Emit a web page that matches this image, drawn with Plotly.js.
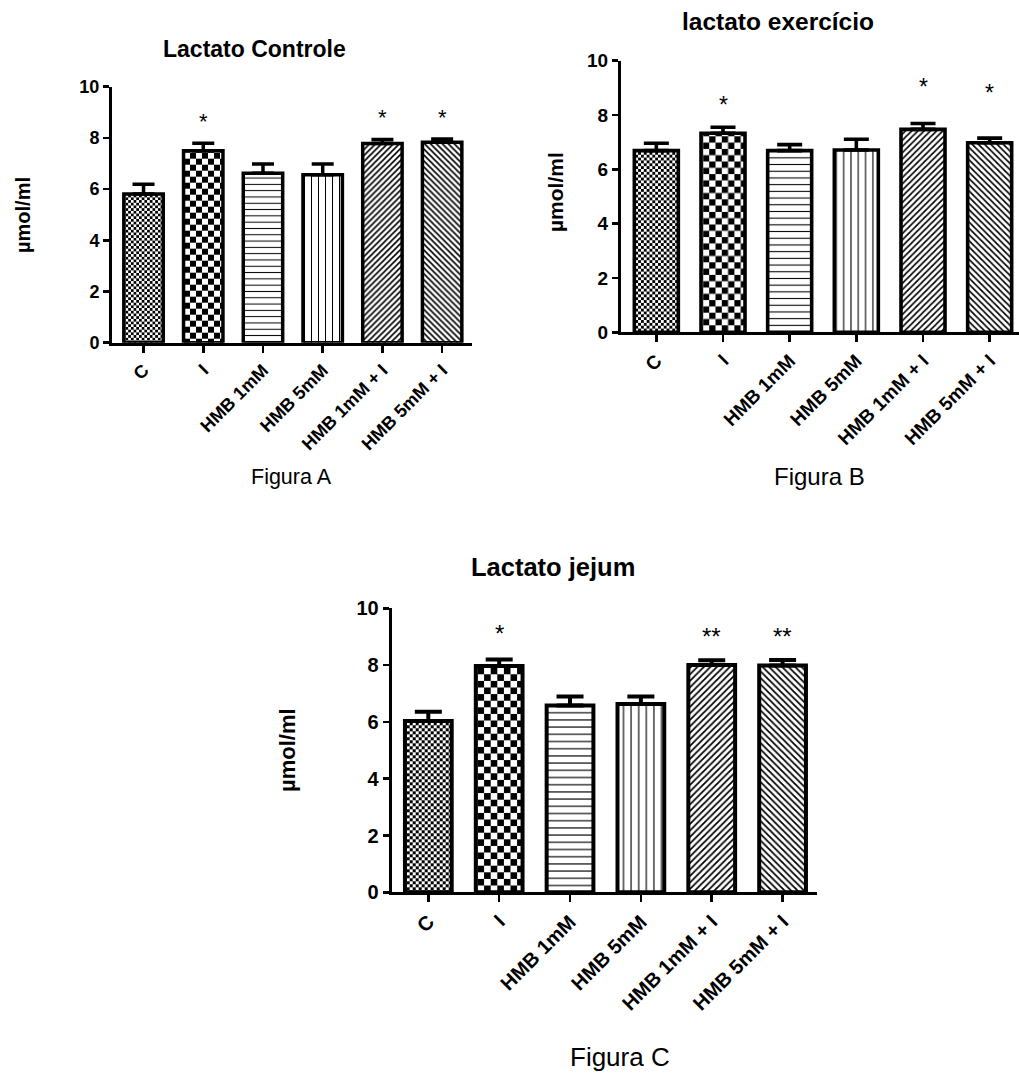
<!DOCTYPE html>
<html>
<head>
<meta charset="utf-8">
<script src="https://cdn.plot.ly/plotly-3.0.1.min.js"></script>
<style>html,body{margin:0;padding:0;background:#fff;}#gd{width:1019px;height:1075px;}</style>
</head>
<body>
<div id="gd"></div>
<script>
// ---------- data ----------
const categories = ['C', 'I', 'HMB 1mM', 'HMB 5mM', 'HMB 1mM + I', 'HMB 5mM + I'];

const valuesA = [5.81, 7.50, 6.62, 6.56, 7.78, 7.83];
const errorsA = [0.38, 0.29, 0.36, 0.42, 0.16, 0.13];
const starsA = ['', '*', '', '', '*', '*'];
const starPosA = [null, 8.83, null, null, 9.0, 9.0];

const valuesB = [6.69, 7.33, 6.69, 6.71, 7.47, 6.98];
const errorsB = [0.27, 0.22, 0.22, 0.40, 0.22, 0.17];
const starsB = ['', '*', '', '', '*', '*'];
const starPosB = [null, 8.58, null, null, 9.22, 9.02];

const valuesC = [6.03, 7.97, 6.58, 6.63, 8.00, 7.99];
const errorsC = [0.33, 0.23, 0.31, 0.26, 0.17, 0.19];
const starsC = ['', '*', '', '', '**', '**'];
const starPosC = [null, 9.3, null, null, 9.21, 9.21];

const yTicks = [0, 2, 4, 6, 8, 10];
const titleA = 'Lactato Controle';
const titleB = 'lactato exercício';
const titleC = 'Lactato jejum';
const yTitle = 'µmol/ml';
const captionA = 'Figura A';
const captionB = 'Figura B';
const captionC = 'Figura C';

// ---------- layout helpers ----------
const W = 1019, H = 1075;
const FONT = 'Liberation Sans, Arial, Helvetica, sans-serif';
const px = x => x / W;
const py = y => 1 - y / H;

const panels = [
  {vals: valuesA, errs: errorsA, stars: starsA, starPos: starPosA, xa: 'x', ya: 'y',
   xdom: [px(112), px(472)], ydom: [py(342.7), py(86.7)], xr: [-0.528, 5.5],
   lw: 3.5, cap: 11, tick: 18, xtick: 18, star: 22,
   pat: {h: 6.3, v: 7, d: 4.2}, chk: [2.7, 6]},
  {vals: valuesB, errs: errorsB, stars: starsB, starPos: starPosB, xa: 'x2', ya: 'y2',
   xdom: [px(621), 1], ydom: [py(332.3), py(60.7)], xr: [-0.53, 5.44],
   lw: 3.6, cap: 12.5, tick: 19, xtick: 19, star: 23,
   pat: {h: 6.7, v: 7.3, d: 4.4}, chk: [2.85, 6.3]},
  {vals: valuesC, errs: errorsC, stars: starsC, starPos: starPosC, xa: 'x3', ya: 'y3',
   xdom: [px(391.7), px(817.3)], ydom: [py(892.3), py(608.3)], xr: [-0.517, 5.49],
   lw: 4, cap: 13.5, tick: 20, xtick: 20, star: 24,
   pat: {h: 7.2, v: 7.6, d: 4.6}, chk: [3, 6.6]}
];

const data = [];
const layout = {
  width: W, height: H,
  margin: {l: 0, r: 0, t: 0, b: 0},
  paper_bgcolor: '#fff', plot_bgcolor: 'rgba(0,0,0,0)',
  showlegend: false,
  font: {family: FONT, color: '#000'},
  annotations: []
};

panels.forEach((p, i) => {
  const sfx = i === 0 ? '' : String(i + 1);
  data.push({
    type: 'bar', x: categories, y: p.vals, xaxis: p.xa, yaxis: p.ya,
    width: 0.66,
    marker: {
      color: '#fff',
      line: {color: '#000', width: p.lw},
      pattern: {
        shape: ['.', '.', '-', '|', '/', '\\'],
        size: [p.chk[0] * 2, p.chk[1] * 2, p.pat.h, p.pat.v, p.pat.d, p.pat.d],
        solidity: [0.5, 0.5, 0.16, 0.15, 0.38, 0.38],
        fgcolor: '#000', bgcolor: '#fff', fillmode: 'replace'
      }
    },
    error_y: {type: 'data', symmetric: false, array: p.errs,
              arrayminus: p.errs.map(() => 0), color: '#000',
              thickness: p.lw, width: p.cap},
    hoverinfo: 'skip'
  });
  layout['xaxis' + sfx] = {
    domain: p.xdom, anchor: 'y' + sfx, type: 'category', range: p.xr,
    showline: true, linecolor: '#000', linewidth: 3, mirror: false,
    ticks: 'outside', ticklen: 7, tickwidth: 2.5, tickcolor: '#000',
    tickangle: -45, showgrid: false, zeroline: false,
    tickfont: {family: FONT, size: p.xtick, weight: 'bold', color: '#000'}
  };
  layout['yaxis' + sfx] = {
    domain: p.ydom, anchor: 'x' + sfx, range: [0, 10], tickvals: yTicks,
    showline: true, linecolor: '#000', linewidth: 3,
    ticks: 'outside', ticklen: 6, tickwidth: 2.5, tickcolor: '#000',
    showgrid: false, zeroline: false,
    tickfont: {family: FONT, size: p.tick, weight: 'bold', color: '#000'}
  };
  p.stars.forEach((s, k) => {
    if (!s) return;
    layout.annotations.push({
      xref: p.xa, yref: p.ya, x: categories[k], y: p.starPos[k],
      text: s, showarrow: false, yanchor: 'middle', yshift: -p.star * 0.24,
      font: {family: FONT, size: p.star, color: '#000'}
    });
  });
});

function paperText(text, x, y, size, bold, angle) {
  layout.annotations.push({
    xref: 'paper', yref: 'paper', x: px(x), y: py(y), text: text,
    showarrow: false, xanchor: 'center', yanchor: 'middle', textangle: angle || 0,
    font: {family: FONT, size: size, weight: bold ? 'bold' : 'normal', color: '#000'}
  });
}
paperText(titleA, 254, 49, 23, true);
paperText(titleB, 778, 21, 24.5, true);
paperText(titleC, 553, 567, 25.5, true);
paperText(yTitle, 23, 215, 20, true, -90);
paperText(yTitle, 556, 192, 21, true, -90);
paperText(yTitle, 287, 750, 22, true, -90);
paperText(captionA, 291, 477, 21.5, false);
paperText(captionB, 819, 476, 24, false);
paperText(captionC, 620, 1057, 26, false);

const gd = document.getElementById('gd');
Plotly.newPlot(gd, data, layout, {staticPlot: true, displayModeBar: false}).then(() => {
  // replace dot patterns of the first two bars of each panel with checkerboards
  const ns = 'http://www.w3.org/2000/svg';
  const svg = gd.querySelector('svg.main-svg');
  let defs = svg.querySelector('defs');
  if (!defs) { defs = document.createElementNS(ns, 'defs'); svg.insertBefore(defs, svg.firstChild); }
  function checker(id, s) {
    const pat = document.createElementNS(ns, 'pattern');
    pat.setAttribute('id', id);
    pat.setAttribute('patternUnits', 'userSpaceOnUse');
    pat.setAttribute('width', 2 * s);
    pat.setAttribute('height', 2 * s);
    const bg = document.createElementNS(ns, 'rect');
    bg.setAttribute('width', 2 * s); bg.setAttribute('height', 2 * s); bg.setAttribute('fill', '#fff');
    pat.appendChild(bg);
    [[0, 0], [s, s]].forEach(([x, y]) => {
      const r = document.createElementNS(ns, 'rect');
      r.setAttribute('x', x); r.setAttribute('y', y);
      r.setAttribute('width', s); r.setAttribute('height', s); r.setAttribute('fill', '#000');
      pat.appendChild(r);
    });
    defs.appendChild(pat);
  }
  const traces = gd.querySelectorAll('g.trace.bars');
  traces.forEach((t, i) => {
    const p = panels[i];
    checker('chkF' + i, p.chk[0]);
    checker('chkC' + i, p.chk[1]);
    const paths = t.querySelectorAll('g.point path');
    if (paths[0]) paths[0].style.fill = "url('#chkF" + i + "')";
    if (paths[1]) paths[1].style.fill = "url('#chkC" + i + "')";
  });
});
</script>
</body>
</html>
